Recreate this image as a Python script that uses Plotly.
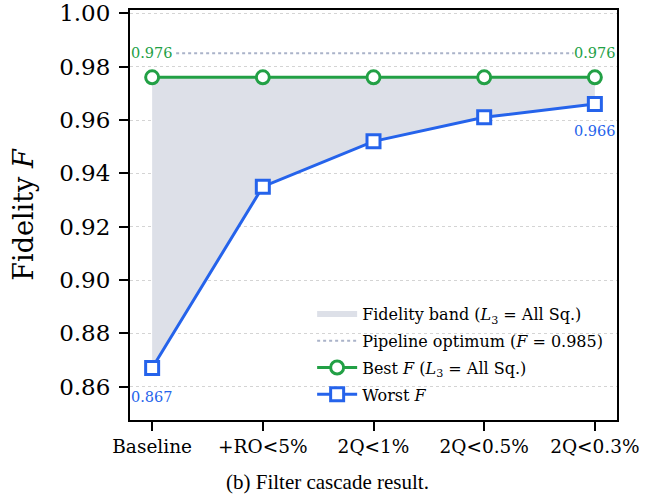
import plotly.graph_objects as go

categories = ["Baseline", "+RO<5%", "2Q<1%", "2Q<0.5%", "2Q<0.3%"]
best_f = [0.976, 0.976, 0.976, 0.976, 0.976]
worst_f = [0.867, 0.935, 0.952, 0.961, 0.966]
pipeline_opt = 0.985
y_ticks = [0.86, 0.88, 0.90, 0.92, 0.94, 0.96, 0.98, 1.00]

GREEN = "#22a045"
BLUE = "#2563eb"
SERIF = "DejaVu Serif"
xs = list(range(len(categories)))

fig = go.Figure()
fig.add_trace(go.Scatter(
    x=xs + xs[::-1], y=best_f + worst_f[::-1], fill="toself",
    fillcolor="#dde0e8", line=dict(width=0), mode="none", legendgroup="a",
    name="Fidelity band (<i>L</i><sub>3</sub> = All Sq.)"))
fig.add_trace(go.Scatter(
    x=[xs[0], xs[-1]], y=[pipeline_opt, pipeline_opt], mode="lines", legendgroup="b",
    line=dict(color="#aab3c9", width=2, dash="dot"),
    name="Pipeline optimum (<i>F</i> = 0.985)"))
fig.add_trace(go.Scatter(
    x=xs, y=best_f, mode="lines+markers", legendgroup="c",
    line=dict(color=GREEN, width=3),
    marker=dict(symbol="circle", size=13, color="white", line=dict(color=GREEN, width=3)),
    name="Best <i>F</i> (<i>L</i><sub>3</sub> = All Sq.)"))
fig.add_trace(go.Scatter(
    x=xs, y=worst_f, mode="lines+markers", legendgroup="d",
    line=dict(color=BLUE, width=3),
    marker=dict(symbol="square", size=13, color="white", line=dict(color=BLUE, width=3)),
    name="Worst <i>F</i>"))

ann_font = dict(family=SERIF, size=14.5)
fig.add_annotation(x=xs[0], y=best_f[0], text=f"{best_f[0]:.3f}", showarrow=False,
                   yshift=24, font=dict(color=GREEN, **ann_font), bgcolor="white", borderpad=0)
fig.add_annotation(x=xs[-1], y=best_f[-1], text=f"{best_f[-1]:.3f}", showarrow=False,
                   yshift=24, font=dict(color=GREEN, **ann_font), bgcolor="white", borderpad=0)
fig.add_annotation(x=xs[0], y=worst_f[0], text=f"{worst_f[0]:.3f}", showarrow=False,
                   yshift=-29, font=dict(color=BLUE, **ann_font))
fig.add_annotation(x=xs[-1], y=worst_f[-1], text=f"{worst_f[-1]:.3f}", showarrow=False,
                   yshift=-27, font=dict(color=BLUE, **ann_font))
fig.add_annotation(x=(327 - 130) / 487, y=0, xref="paper", yref="paper", yanchor="middle",
                   yshift=-62, text="(b) Filter cascade result.", showarrow=False,
                   font=dict(family="Liberation Serif", size=21, color="black"))

fig.update_layout(
    width=665, height=496,
    margin=dict(l=130, r=48, t=10, b=76),
    plot_bgcolor="white", paper_bgcolor="white",
    showlegend=True,
    legend=dict(x=0.374, y=0.30, xanchor="left", yanchor="top",
                bgcolor="rgba(0,0,0,0)", font=dict(family=SERIF, size=16, color="black"),
                itemwidth=40, tracegroupgap=3),
    xaxis=dict(range=[-0.2, 4.2], tickmode="array", tickvals=xs, ticktext=categories,
               automargin=False,
               showgrid=False, zeroline=False, showline=True, linecolor="black", linewidth=2,
               mirror=True, ticks="outside", ticklen=9, tickwidth=2, tickcolor="black",
               tickfont=dict(family=SERIF, size=18.5, color="black")),
    yaxis=dict(range=[0.8475, 1.00125], tickmode="array", tickvals=y_ticks,
               ticktext=[f"{v:.2f}" for v in y_ticks], automargin=False,
               showgrid=True, gridcolor="#d4d4d4", griddash="dot", gridwidth=1,
               zeroline=False, showline=True, linecolor="black", linewidth=2,
               mirror=True, ticks="outside", ticklen=9, tickwidth=2, tickcolor="black",
               ticklabelstandoff=4,
               tickfont=dict(family=SERIF, size=23, color="black"),
               title=dict(text="Fidelity <i>F</i>", standoff=18,
                          font=dict(family=SERIF, size=27, color="black"))),
)
fig.write_html("out.html")
